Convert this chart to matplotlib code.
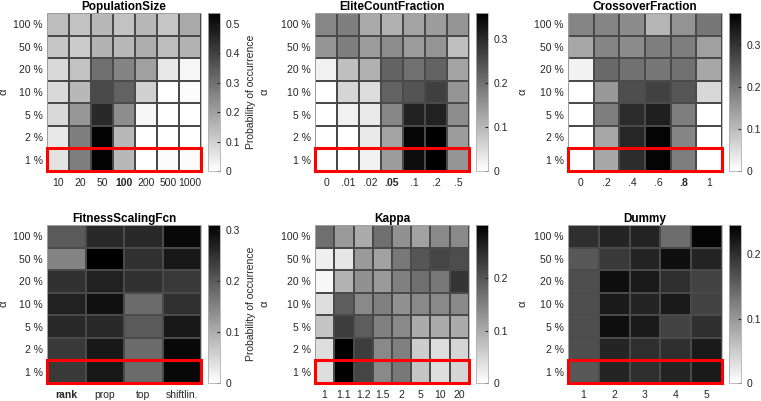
import numpy as np
import matplotlib
matplotlib.use("Agg")
import matplotlib.pyplot as plt
from matplotlib.patches import Rectangle

plt.rcParams["font.family"] = ["Liberation Sans", "DejaVu Sans"]

ALPHAS = ["100 %", "50 %", "20 %", "10 %", "5 %", "2 %", "1 %"]

# rows follow ALPHAS (top to bottom)
pop_labels = ["10", "20", "50", "100", "200", "500", "1000"]
pop_vals = [
    [0.14, 0.13, 0.15, 0.13, 0.15, 0.12, 0.18],
    [0.12, 0.11, 0.16, 0.15, 0.17, 0.14, 0.16],
    [0.08, 0.13, 0.30, 0.26, 0.20, 0.05, 0.02],
    [0.08, 0.15, 0.38, 0.33, 0.10, 0.00, 0.01],
    [0.08, 0.22, 0.45, 0.24, 0.02, 0.00, 0.00],
    [0.05, 0.27, 0.53, 0.15, 0.00, 0.00, 0.00],
    [0.06, 0.27, 0.53, 0.15, 0.00, 0.01, 0.01],
]

elite_labels = ["0", ".01", ".02", ".05", ".1", ".2", ".5"]
elite_vals = [
    [0.17, 0.18, 0.12, 0.11, 0.13, 0.14, 0.15],
    [0.15, 0.18, 0.14, 0.16, 0.14, 0.15, 0.09],
    [0.02, 0.09, 0.11, 0.22, 0.20, 0.22, 0.13],
    [0.00, 0.06, 0.05, 0.22, 0.24, 0.27, 0.15],
    [0.00, 0.02, 0.03, 0.17, 0.31, 0.31, 0.16],
    [0.00, 0.00, 0.03, 0.13, 0.35, 0.36, 0.14],
    [0.00, 0.00, 0.02, 0.14, 0.34, 0.36, 0.15],
]

cross_labels = ["0", ".2", ".4", ".6", ".8", "1"]
cross_vals = [
    [0.18, 0.18, 0.17, 0.11, 0.16, 0.20],
    [0.13, 0.18, 0.17, 0.19, 0.19, 0.14],
    [0.02, 0.22, 0.21, 0.20, 0.21, 0.13],
    [0.00, 0.15, 0.26, 0.28, 0.25, 0.06],
    [0.00, 0.19, 0.31, 0.33, 0.19, 0.00],
    [0.00, 0.13, 0.32, 0.37, 0.18, 0.00],
    [0.00, 0.13, 0.31, 0.37, 0.19, 0.00],
]

fit_labels = ["rank", "prop", "top", "shiftlin."]
fit_vals = [
    [0.20, 0.26, 0.26, 0.30],
    [0.15, 0.31, 0.25, 0.28],
    [0.25, 0.27, 0.25, 0.24],
    [0.27, 0.29, 0.18, 0.25],
    [0.26, 0.26, 0.20, 0.28],
    [0.24, 0.28, 0.18, 0.30],
    [0.24, 0.28, 0.18, 0.30],
]

kappa_labels = ["1", "1.1", "1.2", "1.5", "2", "5", "10", "20"]
kappa_vals = [
    [0.17, 0.12, 0.10, 0.17, 0.13, 0.11, 0.14, 0.14],
    [0.02, 0.03, 0.12, 0.11, 0.16, 0.20, 0.22, 0.21],
    [0.01, 0.09, 0.13, 0.12, 0.15, 0.17, 0.16, 0.24],
    [0.04, 0.19, 0.14, 0.15, 0.13, 0.14, 0.14, 0.14],
    [0.07, 0.23, 0.19, 0.15, 0.14, 0.10, 0.10, 0.10],
    [0.04, 0.30, 0.23, 0.14, 0.15, 0.06, 0.04, 0.05],
    [0.04, 0.30, 0.22, 0.14, 0.16, 0.07, 0.04, 0.05],
]

dummy_labels = ["1", "2", "3", "4", "5"]
dummy_vals = [
    [0.20, 0.21, 0.21, 0.14, 0.24],
    [0.16, 0.19, 0.21, 0.23, 0.21],
    [0.17, 0.23, 0.22, 0.20, 0.18],
    [0.17, 0.22, 0.21, 0.22, 0.18],
    [0.17, 0.23, 0.22, 0.18, 0.20],
    [0.17, 0.21, 0.20, 0.20, 0.22],
    [0.16, 0.21, 0.20, 0.21, 0.22],
]

# (title, labels, values, vmax, cbar ticks, bold label index, cbar label)
PANELS = [
    ("PopulationSize", pop_labels, pop_vals, 0.537, [0, 0.1, 0.2, 0.3, 0.4, 0.5], 3, True),
    ("EliteCountFraction", elite_labels, elite_vals, 0.359, [0, 0.1, 0.2, 0.3], 3, False),
    ("CrossoverFraction", cross_labels, cross_vals, 0.376, [0, 0.1, 0.2, 0.3], 4, False),
    ("FitnessScalingFcn", fit_labels, fit_vals, 0.31, [0, 0.1, 0.2, 0.3], 0, True),
    ("Kappa", kappa_labels, kappa_vals, 0.302, [0, 0.1, 0.2], None, False),
    ("Dummy", dummy_labels, dummy_vals, 0.245, [0, 0.1, 0.2], None, False),
]

W, H = 761, 401
fig = plt.figure(figsize=(W / 100, H / 100), dpi=100, facecolor="white")

def px(x0, y0, w, h):
    return [x0 / W, 1 - (y0 + h) / H, w / W, h / H]

COL_X = [47, 315, 568]
ALPHA_DX = [38, 46, 41]     # α label distance left of heatmap, px
ROW_Y = [13, 225]
HM_W, HM_H = 154, 158
CB_DX, CB_W = 161, 12
EDGE = "#b0b0b0"
TXT = "#262626"
FS = 7.5

for i, (title, labels, vals, vmax, cticks, bold, cblabel) in enumerate(PANELS):
    r, c = divmod(i, 3)
    x0, y0 = COL_X[c], ROW_Y[r]
    data = np.array(vals)
    nr, nc = data.shape

    ax = fig.add_axes(px(x0, y0, HM_W, HM_H))
    mesh = ax.pcolormesh(data, cmap="gray_r", vmin=0, vmax=vmax,
                         edgecolors="#4a4a4a", linewidth=0.35)
    ax.set_xlim(0, nc)
    ax.set_ylim(nr, 0)
    ax.set_xticks(np.arange(nc) + 0.5)
    ax.set_xticklabels(labels)
    ax.set_yticks(np.arange(nr) + 0.5)
    ax.set_yticklabels(ALPHAS)
    ax.tick_params(axis="y", length=0, labelsize=FS, pad=3, colors=TXT)
    ax.tick_params(axis="x", length=0, labelsize=FS, pad=5, colors=TXT)
    if bold is not None:
        ax.get_xticklabels()[bold].set_fontweight("bold")
    for sp in ax.spines.values():
        sp.set_color(EDGE)
        sp.set_linewidth(0.6)
    ax.set_title(title, fontsize=8.5, fontweight="bold", pad=1)
    ax.set_ylabel("α", fontsize=8, color=TXT)
    ax.yaxis.set_label_coords(-ALPHA_DX[c] / HM_W, 0.5)

    # highlight the 1 % row
    ax.add_patch(Rectangle((0, nr - 1), nc, 1, fill=False, ec="#ff0000",
                           lw=2.2, clip_on=False, zorder=5))

    cax = fig.add_axes(px(x0 + CB_DX, y0, CB_W, HM_H))
    cb = fig.colorbar(mesh, cax=cax, ticks=cticks)
    cb.ax.set_yticklabels([f"{t:g}" for t in cticks])
    cb.ax.tick_params(labelsize=FS, length=2, direction="in", pad=4, colors=TXT)
    cb.outline.set_edgecolor(EDGE)
    cb.outline.set_linewidth(0.6)
    if cblabel:
        cb.set_label("Probability of occurrence", fontsize=FS, color=TXT, labelpad=4)

fig.savefig("out.png", dpi=100, facecolor="white")
